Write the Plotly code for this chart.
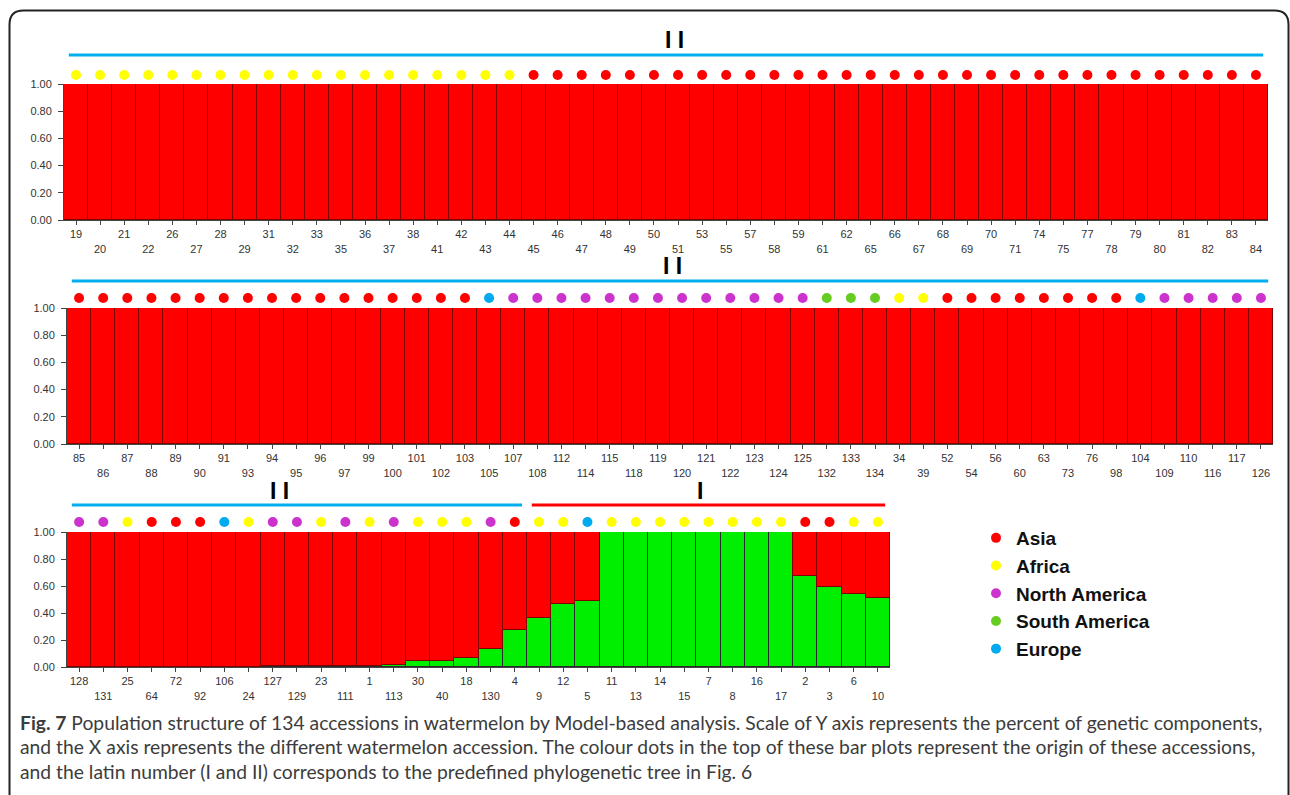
import plotly.graph_objects as go

# ---------------- data ----------------
labels_1 = ["19", "20", "21", "22", "26", "27", "28", "29", "31", "32", "33", "35", "36", "37", "38",
            "41", "42", "43", "44", "45", "46", "47", "48", "49", "50", "51", "53", "55", "57", "58",
            "59", "61", "62", "65", "66", "67", "68", "69", "70", "71", "74", "75", "77", "78", "79",
            "80", "81", "82", "83", "84"]
labels_2 = ["85", "86", "87", "88", "89", "90", "91", "93", "94", "95", "96", "97", "99", "100", "101",
            "102", "103", "105", "107", "108", "112", "114", "115", "118", "119", "120", "121", "122",
            "123", "124", "125", "132", "133", "134", "34", "39", "52", "54", "56", "60", "63", "73",
            "76", "98", "104", "109", "110", "116", "117", "126"]
labels_3 = ["128", "131", "25", "64", "72", "92", "106", "24", "127", "129", "23", "111", "1", "113",
            "30", "40", "18", "130", "4", "9", "12", "5", "11", "13", "14", "15", "7", "8", "16", "17",
            "2", "3", "6", "10"]

# membership of the green component (cluster I) for each accession
green_1 = [0.00, 0.00, 0.00, 0.00, 0.00, 0.00, 0.00, 0.00, 0.00, 0.00,
           0.00, 0.00, 0.00, 0.00, 0.00, 0.00, 0.00, 0.00, 0.00, 0.00,
           0.00, 0.00, 0.00, 0.00, 0.00, 0.00, 0.00, 0.00, 0.00, 0.00,
           0.00, 0.00, 0.00, 0.00, 0.00, 0.00, 0.00, 0.00, 0.00, 0.00,
           0.00, 0.00, 0.00, 0.00, 0.00, 0.00, 0.00, 0.00, 0.00, 0.00]
green_2 = [0.00, 0.00, 0.00, 0.00, 0.00, 0.00, 0.00, 0.00, 0.00, 0.00,
           0.00, 0.00, 0.00, 0.00, 0.00, 0.00, 0.00, 0.00, 0.00, 0.00,
           0.00, 0.00, 0.00, 0.00, 0.00, 0.00, 0.00, 0.00, 0.00, 0.00,
           0.00, 0.00, 0.00, 0.00, 0.00, 0.00, 0.00, 0.00, 0.00, 0.00,
           0.00, 0.00, 0.00, 0.00, 0.00, 0.00, 0.00, 0.00, 0.00, 0.00]
green_3 = [0.000, 0.000, 0.000, 0.000, 0.000, 0.000, 0.000, 0.000, 0.005, 0.005,
           0.006, 0.008, 0.010, 0.012, 0.045, 0.045, 0.070, 0.130, 0.275, 0.365,
           0.470, 0.490, 1.000, 1.000, 1.000, 1.000, 1.000, 1.000, 1.000, 1.000,
           0.675, 0.590, 0.540, 0.510]
# membership of the red component (cluster II)
red_1 = [1.00, 1.00, 1.00, 1.00, 1.00, 1.00, 1.00, 1.00, 1.00, 1.00,
         1.00, 1.00, 1.00, 1.00, 1.00, 1.00, 1.00, 1.00, 1.00, 1.00,
         1.00, 1.00, 1.00, 1.00, 1.00, 1.00, 1.00, 1.00, 1.00, 1.00,
         1.00, 1.00, 1.00, 1.00, 1.00, 1.00, 1.00, 1.00, 1.00, 1.00,
         1.00, 1.00, 1.00, 1.00, 1.00, 1.00, 1.00, 1.00, 1.00, 1.00]
red_2 = [1.00, 1.00, 1.00, 1.00, 1.00, 1.00, 1.00, 1.00, 1.00, 1.00,
         1.00, 1.00, 1.00, 1.00, 1.00, 1.00, 1.00, 1.00, 1.00, 1.00,
         1.00, 1.00, 1.00, 1.00, 1.00, 1.00, 1.00, 1.00, 1.00, 1.00,
         1.00, 1.00, 1.00, 1.00, 1.00, 1.00, 1.00, 1.00, 1.00, 1.00,
         1.00, 1.00, 1.00, 1.00, 1.00, 1.00, 1.00, 1.00, 1.00, 1.00]
red_3 = [1.000, 1.000, 1.000, 1.000, 1.000, 1.000, 1.000, 1.000, 0.995, 0.995,
         0.994, 0.992, 0.990, 0.988, 0.955, 0.955, 0.930, 0.870, 0.725, 0.635,
         0.530, 0.510, 0.000, 0.000, 0.000, 0.000, 0.000, 0.000, 0.000, 0.000,
         0.325, 0.410, 0.460, 0.490]

# origin of each accession: R=Asia, Y=Africa, M=North America, G=South America, B=Europe
origin_1 = list("YYYYYYYYYYYYYYYYYYYRRRRRRRRRRRRRRRRRRRRRRRRRRRRRRR")
origin_2 = list("RRRRRRRRRRRRRRRRRBMMMMMMMMMMMMMGGGYYRRRRRRRRBMMMMM")
origin_3 = list("MMYRRRBYMMYMYMYYYMRYYBYYYYYYYYRRYY")

# phylogenetic cluster of each accession
cluster_1 = ["II"] * 50
cluster_2 = ["II"] * 50
cluster_3 = ["II", "II", "II", "II", "II", "II", "II", "II", "II", "II", "II", "II", "II", "II",
             "II", "II", "II", "II", "II", "I", "I", "I", "I", "I", "I", "I", "I", "I", "I", "I",
             "I", "I", "I", "I"]

origin_names = {"R": "Asia", "Y": "Africa", "M": "North America", "G": "South America", "B": "Europe"}
origin_order = ["R", "Y", "M", "G", "B"]

caption_lines = [
    "<b>Fig. 7</b> Population structure of 134 accessions in watermelon by Model-based analysis. Scale of Y axis represents the percent of genetic components,",
    "and the X axis represents the different watermelon accession. The colour dots in the top of these bar plots represent the origin of these accessions,",
    "and the latin number (I and II) corresponds to the predefined phylogenetic tree in Fig. 6",
]

# ---------------- styles ----------------
W, H = 1290, 795
def px(x):
    return x / W
def py(y):
    return 1 - y / H

origin_colors = {"R": "#ff0000", "Y": "#ffff00", "M": "#cc33cc", "G": "#66cc22", "B": "#00aaee"}
cluster_colors = {"II": "#00aeef", "I": "#ff0000"}
FONT = "Liberation Sans, Arial, sans-serif"

panels = [
    dict(labels=labels_1, green=green_1, red=red_1, origin=origin_1, cluster=cluster_1,
         dx=(64, 1268), dy=(84, 220), dots=75, line=55, numeral=40, nshift=[8]),
    dict(labels=labels_2, green=green_2, red=red_2, origin=origin_2, cluster=cluster_2,
         dx=(67, 1273), dy=(308, 444), dots=298, line=281, numeral=266, nshift=[2]),
    dict(labels=labels_3, green=green_3, red=red_3, origin=origin_3, cluster=cluster_3,
         dx=(67, 890), dy=(532, 667), dots=522, line=505, numeral=491, nshift=[-17, -8]),
]

fig = go.Figure()
shapes = []
annotations = []
shown = set()

for k, p in enumerate(panels):
    suf = "" if k == 0 else str(k + 1)
    dsuf = str(k + 4)
    xa, ya, yd = "x" + suf, "y" + suf, "y" + dsuf
    n = len(p["labels"])
    xs = list(range(n))
    fig.add_trace(go.Bar(x=xs, y=p["green"], xaxis=xa, yaxis=ya, width=1.0,
                         marker=dict(color="#00ee00", line=dict(color="#2a2a2a", width=1)),
                         showlegend=False, hoverinfo="skip"))
    fig.add_trace(go.Bar(x=xs, y=p["red"], xaxis=xa, yaxis=ya, width=1.0,
                         marker=dict(color="#ff0000", line=dict(color="#800000", width=1)),
                         showlegend=False, hoverinfo="skip"))
    # origin dots (own thin axis row above the bars)
    for code in origin_order:
        idx = [i for i, c in enumerate(p["origin"]) if c == code]
        if not idx:
            continue
        fig.add_trace(go.Scatter(
            x=idx, y=[0.5] * len(idx), xaxis=xa, yaxis=yd, mode="markers",
            marker=dict(color=origin_colors[code], size=10, line=dict(width=0)),
            name=origin_names[code], legendgroup=code,
            legendrank=origin_order.index(code) + 1,
            showlegend=code not in shown, hoverinfo="skip"))
        shown.add(code)
    # cluster lines + roman numerals
    runs = []
    start = 0
    for i in range(1, n + 1):
        if i == n or p["cluster"][i] != p["cluster"][start]:
            runs.append((p["cluster"][start], start, i - 1))
            start = i
    for r_i, (name, a, b) in enumerate(runs):
        shapes.append(dict(type="line", xref=xa, yref="paper",
                           x0=a - 0.5 + 0.2, x1=b + 0.5 - 0.2, y0=py(p["line"]), y1=py(p["line"]),
                           line=dict(color=cluster_colors[name], width=3)))
        annotations.append(dict(xref=xa, yref="paper", x=(a + b) / 2, y=py(p["numeral"]),
                                xshift=p["nshift"][r_i],
                                text="<b>" + " ".join(list(name)) + "</b>", showarrow=False,
                                font=dict(family=FONT, size=23, color="#000"),
                                xanchor="center", yanchor="middle"))
    ticktext = [lab if i % 2 == 0 else "<br>" + lab for i, lab in enumerate(p["labels"])]
    fig.update_layout(**{
        "xaxis" + suf: dict(domain=[px(p["dx"][0]), px(p["dx"][1])], anchor=ya,
                            range=[-0.5, n - 0.5], tickmode="array", tickvals=xs, ticktext=ticktext,
                            ticks="outside", ticklen=4, tickcolor="#444", showline=True,
                            linecolor="#444", linewidth=1, showgrid=False, zeroline=False,
                            automargin=False,
                            tickfont=dict(family=FONT, size=11, color="#333")),
        "yaxis" + suf: dict(domain=[py(p["dy"][1]), py(p["dy"][0])], anchor=xa,
                            range=[0, 1], tickmode="array", tickvals=[0, 0.2, 0.4, 0.6, 0.8, 1.0],
                            tickformat=".2f", ticks="outside", ticklen=5, tickcolor="#444",
                            showline=True, linecolor="#444", linewidth=1, showgrid=False,
                            zeroline=False, ticklabelstandoff=4, automargin=False,
                            tickfont=dict(family=FONT, size=11, color="#333")),
        "yaxis" + dsuf: dict(domain=[py(p["dots"] + 8), py(p["dots"] - 8)], anchor=xa,
                             range=[0, 1], visible=False, automargin=False),
    })

# outer frame (rounded), kept inside the page
r = 14
x0, y0, x1, y1 = 9.5, 10.5, 1288.5, 795
frame = (f"M {px(x0)} {py(y1)} L {px(x0)} {py(y0 + r)} "
         f"Q {px(x0)} {py(y0)} {px(x0 + r)} {py(y0)} "
         f"L {px(x1 - r)} {py(y0)} Q {px(x1)} {py(y0)} {px(x1)} {py(y0 + r)} "
         f"L {px(x1)} {py(y1)}")
shapes.append(dict(type="path", xref="paper", yref="paper", path=frame,
                   line=dict(color="#222", width=2)))

# caption
for j, line in enumerate(caption_lines):
    annotations.append(dict(xref="paper", yref="paper", x=px(18), y=py(722 + 24.7 * j),
                            xanchor="left", yanchor="middle", showarrow=False, text=line,
                            font=dict(family="Lato, Open Sans, sans-serif", size=19.3,
                                      color="#3c3c3c")))

fig.update_layout(
    width=W, height=H, margin=dict(l=0, r=0, t=0, b=0, autoexpand=False),
    paper_bgcolor="white", plot_bgcolor="rgba(0,0,0,0)",
    barmode="stack", bargap=0,
    shapes=shapes, annotations=annotations,
    showlegend=True,
    legend=dict(x=px(976), y=py(519), xanchor="left", yanchor="top",
                font=dict(family=FONT, size=19, color="#111", weight="bold"),
                bgcolor="rgba(0,0,0,0)", itemwidth=30, traceorder="normal"),
)

fig.write_html("out.html")
